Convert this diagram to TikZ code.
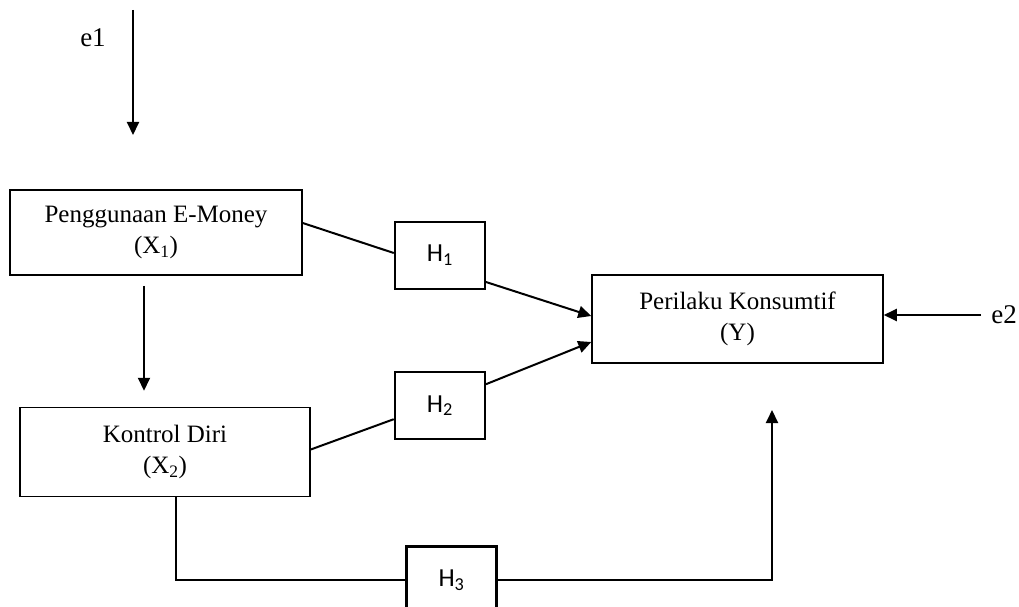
\documentclass[tikz,border=0pt]{standalone}
\usepackage{fontspec}
\setmainfont{Liberation Serif}
\newfontfamily\hfont{Carlito}
\usetikzlibrary{arrows.meta,positioning,calc}

\begin{document}
\begin{tikzpicture}[
  x=1pt, y=-1pt,
  font=\fontsize{25}{31}\selectfont,
  varbox/.style={draw, line width=1.5pt, align=center, inner sep=0pt, minimum width=291pt, minimum height=88pt},
  hbox/.style={draw, line width=2.2pt, font={\hfont\fontsize{26}{30}\selectfont}, inner sep=0pt, minimum width=90pt, minimum height=67pt},
  err/.style={font=\fontsize{27}{30}\selectfont, inner sep=0pt},
  link/.style={line width=2pt},
  arrow/.style={-{Triangle[length=13pt, width=12pt]}, line width=2pt}
]
\useasboundingbox (0,0) rectangle (1019,607);
\node[varbox, minimum width=292pt, minimum height=85pt] (x1) at (156,232.5) {Penggunaan E-Money\\(X\textsubscript{1})};
\node[varbox, minimum width=290pt, minimum height=89pt, below=131pt of x1, xshift=9pt] (x2) {Kontrol Diri\\(X\textsubscript{2})};
\node[varbox] (y) at (737.5,319) {Perilaku Konsumtif\\(Y)};
\node[hbox, right=91pt of x1, yshift=-23pt] (h1) {H\textsubscript{1}};
\node[hbox, below=81pt of h1] (h2) {H\textsubscript{2}};
\node[hbox] (h3) at (451.5,580) {H\textsubscript{3}};
\node[err] (e1) at (93,38) {e1};
\node[err] (e2) at (1004,315) {e2};
\coordinate (e1top) at (133,10);
\coordinate (e1tip) at (133,135);
\coordinate (ytip) at (772,410);
% error terms
\draw[arrow] (e1top) -- (e1tip);
\draw[arrow, shorten <=10pt] (e2.west) -- ([yshift=4pt]y.east);
% paths
\draw[arrow, shorten <=10pt, shorten >=16pt] ([xshift=-12pt]x1.south) -- ([xshift=-21pt]x2.north);
\draw[link] ([yshift=9.5pt]x1.east) -- ([yshift=2.5pt]h1.west);
\draw[arrow] ([yshift=-26.5pt]h1.east) -- ([yshift=3pt]y.west);
\draw[link] ([yshift=2.5pt]x2.east) -- ([yshift=-13.5pt]h2.west);
\draw[arrow] ([yshift=21.5pt]h2.east) -- ([yshift=-23pt]y.west);
\draw[link] ([xshift=11pt]x2.south) |- (h3.west);
\draw[arrow] (h3.east) -| (ytip);
\end{tikzpicture}
\end{document}
